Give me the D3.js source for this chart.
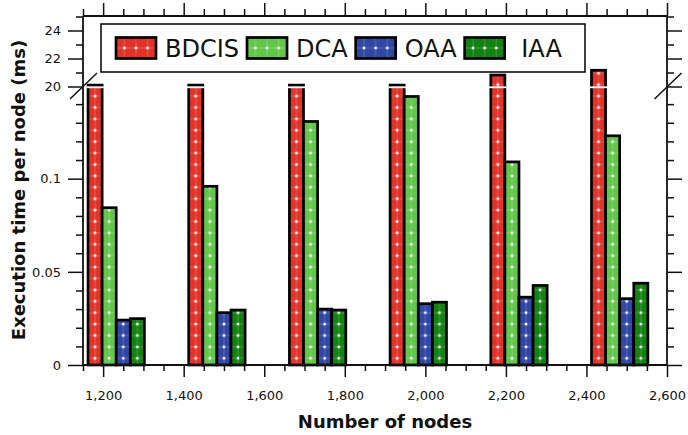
<!DOCTYPE html>
<html><head><meta charset="utf-8">
<script src="https://cdn.jsdelivr.net/npm/d3@7"></script>
<style>
body{margin:0;background:#fff}
svg{display:block}
text{font-family:"DejaVu Sans",sans-serif;fill:#111}
</style>
</head><body><svg id="c" width="688" height="435"></svg>
<script>
// ---- data ----
const groups = [1200, 1450, 1700, 1950, 2200, 2450];
const seriesNames = ["BDCIS", "DCA", "OAA", "IAA"];
const bdcis = [20.1, 20.1, 20.1, 20.1, 20.82, 21.16];
const dca = [0.0844, 0.0959, 0.1307, 0.1441, 0.109, 0.123];
const oaa = [0.0241, 0.0281, 0.0300, 0.0329, 0.0364, 0.0356];
const iaa = [0.0249, 0.0295, 0.0295, 0.0337, 0.0427, 0.0439];
const colors = ["#e0342a", "#62c64b", "#2f46a3", "#128212"];
const xTickValues = [1200, 1400, 1600, 1800, 2000, 2200, 2400, 2600];
const yLowTicks = [0, 0.05, 0.1];
const yUpTicks = [20, 22, 24];
const xLabel = "Number of nodes";
const yLabel = "Execution time per node (ms)";

const seriesValues = [bdcis, dca, oaa, iaa];

// ---- layout ----
const svg = d3.select("#c");
const L = 83, R = 667, B = 365, T = 16;
const x = d3.scaleLinear([1150, 2600], [L, R]);
const yLow = d3.scaleLinear([0, 0.15], [B, 85.5]);
const yUp = d3.scaleLinear([20, 25], [86.5, 16.5]);
const BREAK = 0.15;
const yv = v => v > BREAK ? yUp(v) : yLow(v);
const band = d3.scaleBand().domain(seriesNames).range([-37.5, 102.5]);

const defs = svg.append("defs");
const PW = 11.6, PH = 11.4;
function makePattern(id, color, px, py) {
  const p = defs.append("pattern").attr("id", id)
    .attr("patternUnits", "userSpaceOnUse")
    .attr("x", px).attr("y", py).attr("width", PW).attr("height", PH);
  p.append("rect").attr("width", PW).attr("height", PH).attr("fill", color);
  p.append("line").attr("x1", PW / 2).attr("x2", PW / 2).attr("y1", 0).attr("y2", PH)
    .attr("stroke", "#fff").attr("stroke-opacity", 0.2).attr("stroke-width", 1);
  p.append("line").attr("y1", PH / 2).attr("y2", PH / 2).attr("x1", 0).attr("x2", PW)
    .attr("stroke", "#fff").attr("stroke-opacity", 0.2).attr("stroke-width", 1);
  p.append("rect").attr("x", PW / 2 - 1.25).attr("y", PH / 2 - 1.25)
    .attr("width", 2.5).attr("height", 2.5).attr("fill", "#fff");
}

// ---- bars ----
const bars = [];
seriesNames.forEach((s, si) => {
  groups.forEach((g, gi) => {
    const x0 = x(g + band(s)), x1 = x(g + band(s) + band.bandwidth());
    bars.push({s, si, gi, v: seriesValues[si][gi], x0, w: x1 - x0});
  });
});
bars.forEach((b, i) => {
  const cx = b.x0 + b.w / 2;
  makePattern("pb" + i, colors[b.si], cx - PW / 2, 358.3 - PH / 2);
  b.pid = "pb" + i;
});
const gBars = svg.append("g");
gBars.selectAll("rect").data(bars).join("rect")
  .attr("x", d => d.x0).attr("width", d => d.w)
  .attr("y", d => yv(d.v)).attr("height", d => B - yv(d.v))
  .attr("fill", d => `url(#${d.pid})`)
  .attr("stroke", "#000").attr("stroke-width", 2.7);
// break gaps through bars
gBars.selectAll("rect.gap").data(bars.filter(d => d.v > BREAK)).join("rect")
  .attr("class", "gap")
  .attr("x", d => d.x0 - 1.6).attr("width", d => d.w + 3.2)
  .attr("y", 86.4).attr("height", 1.8).attr("fill", "#fff");

// ---- axes ----
const axisW = 1.8;
function styleAxis(g) {
  g.select(".domain").remove();
  g.selectAll("line").attr("stroke", "#111").attr("stroke-width", 1.5);
  g.selectAll("text").attr("font-size", 13).attr("fill", "#111").attr("font-family", '"DejaVu Sans",sans-serif');
}
const minorX = d3.range(1150, 2601, 50).filter(v => !xTickValues.includes(v));
// bottom
svg.append("g").attr("transform", `translate(0,${B})`)
  .call(d3.axisBottom(x).tickValues(xTickValues).tickFormat(d3.format(",")).tickSize(12).tickPadding(14)).call(styleAxis);
svg.append("g").attr("transform", `translate(0,${B})`)
  .call(d3.axisBottom(x).tickValues(minorX).tickFormat("").tickSize(6)).call(styleAxis);
// top
svg.append("g").attr("transform", `translate(0,${T})`)
  .call(d3.axisTop(x).tickValues(xTickValues).tickFormat("").tickSize(13)).call(styleAxis);
svg.append("g").attr("transform", `translate(0,${T})`)
  .call(d3.axisTop(x).tickValues(minorX).tickFormat("").tickSize(7)).call(styleAxis);
// left / right
const lowMinor = d3.range(1, 15).map(i => i / 100).filter(v => !yLowTicks.some(t => Math.abs(t - v) < 1e-9));
const upMinor = [21, 23, 25];
[[L, d3.axisLeft, true], [R, d3.axisRight, false]].forEach(([px, ax, lab]) => {
  const fmt = lab ? (d => String(d)) : "";
  svg.append("g").attr("transform", `translate(${px},0)`)
    .call(ax(yLow).tickValues(yLowTicks).tickFormat(fmt).tickSize(15).tickPadding(7)).call(styleAxis);
  svg.append("g").attr("transform", `translate(${px},0)`)
    .call(ax(yLow).tickValues(lowMinor).tickFormat("").tickSize(7)).call(styleAxis);
  svg.append("g").attr("transform", `translate(${px},0)`)
    .call(ax(yUp).tickValues(yUpTicks).tickFormat(fmt).tickSize(15).tickPadding(7)).call(styleAxis);
  svg.append("g").attr("transform", `translate(${px},0)`)
    .call(ax(yUp).tickValues(upMinor).tickFormat("").tickSize(7)).call(styleAxis);
});
// frame lines
const frame = svg.append("g").attr("stroke", "#111").attr("stroke-width", axisW);
frame.append("line").attr("x1", L).attr("x2", R).attr("y1", B).attr("y2", B);
frame.append("line").attr("x1", L).attr("x2", R).attr("y1", T).attr("y2", T);
frame.append("line").attr("x1", L).attr("x2", L).attr("y1", T).attr("y2", B);
frame.append("line").attr("x1", R).attr("x2", R).attr("y1", T).attr("y2", B);
// break marks
[L + 0.5, R + 1].forEach(cx => {
  svg.append("line").attr("x1", cx - 13.5).attr("y1", 99).attr("x2", cx + 13.5).attr("y2", 73)
    .attr("stroke", "#111").attr("stroke-width", 1.5);
});

// ---- titles ----
svg.append("text").attr("x", (L + R) / 2 + 10).attr("y", 428)
  .attr("text-anchor", "middle").attr("font-size", 18).attr("font-weight", "bold").text(xLabel);
svg.append("text").attr("transform", "translate(25,190) rotate(-90)")
  .attr("text-anchor", "middle").attr("font-size", 18).attr("font-weight", "bold").text(yLabel);

// ---- legend ----
const lg = svg.append("g");
lg.append("rect").attr("x", 101).attr("y", 24).attr("width", 484).attr("height", 48)
  .attr("fill", "#fff").attr("stroke", "#111").attr("stroke-width", 1.6);
let lx = 116;
seriesNames.forEach((s, i) => {
  const sw = 40;
  makePattern("pl" + i, colors[i], lx + sw / 2 - PW / 2, 48 - PH / 2);
  lg.append("rect").attr("x", lx).attr("y", 37.5).attr("width", sw).attr("height", 21)
    .attr("fill", `url(#pl${i})`).attr("stroke", "#000").attr("stroke-width", 2.7);
  const label = i === 3 ? "\u00a0" + s : s;
  const t = lg.append("text").attr("x", lx + 49).attr("y", 57).attr("font-size", 24).text(label);
  lx = lx + 49 + t.node().getComputedTextLength() + 8;
});
</script>
</body></html>
